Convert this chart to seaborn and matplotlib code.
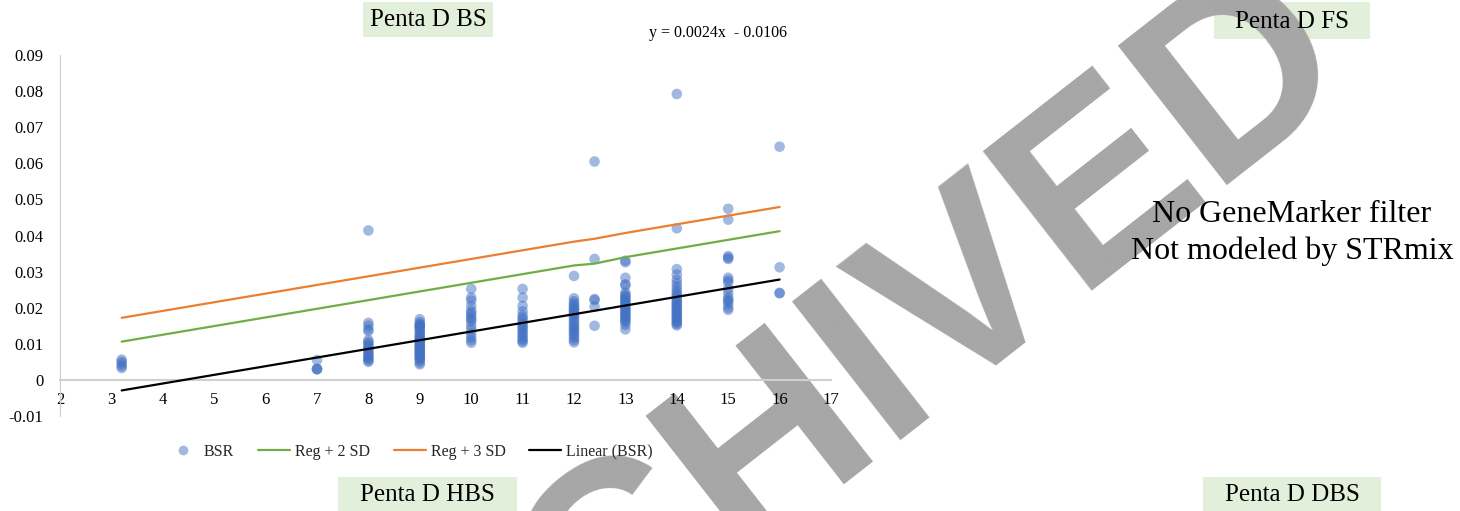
import numpy as np
import pandas as pd
import matplotlib
matplotlib.use("Agg")
import matplotlib.pyplot as plt
from matplotlib.patches import Rectangle
from matplotlib.lines import Line2D
import seaborn as sns

# ---- data: back-stutter ratio (BSR) per allele ----
bsr_3_2 = [0.0056, 0.0050, 0.0045, 0.0038, 0.0033]
bsr_7 = [0.0055, 0.0031, 0.0030, 0.0029]
bsr_8 = [0.0414, 0.0158, 0.0150, 0.0140, 0.0135, 0.0110, 0.0105, 0.0100, 0.0095,
         0.0090, 0.0085, 0.0080, 0.0075, 0.0070, 0.0066, 0.0062, 0.0058, 0.0054, 0.0050]
bsr_9 = [0.0168, 0.0160, 0.0155, 0.0152, 0.0150, 0.0147, 0.0144, 0.0140, 0.0135,
         0.0130, 0.0125, 0.0120, 0.0117, 0.0113, 0.0110, 0.0107, 0.0104, 0.0100,
         0.0097, 0.0094, 0.0091, 0.0088, 0.0085, 0.0082, 0.0079, 0.0076, 0.0073,
         0.0070, 0.0067, 0.0064, 0.0061, 0.0058, 0.0054, 0.0048, 0.0043]
bsr_10 = [0.0252, 0.0228, 0.0220, 0.0205, 0.0192, 0.0186, 0.0180, 0.0172, 0.0168,
          0.0162, 0.0150, 0.0140, 0.0128, 0.0118, 0.0110, 0.0103]
bsr_11 = [0.0252, 0.0228, 0.0205, 0.0190, 0.0178, 0.0172, 0.0165, 0.0158, 0.0152,
          0.0147, 0.0142, 0.0136, 0.0130, 0.0124, 0.0118, 0.0112, 0.0107, 0.0103]
bsr_12 = [0.0288, 0.0226, 0.0218, 0.0212, 0.0207, 0.0202, 0.0198, 0.0194, 0.0190,
          0.0186, 0.0182, 0.0178, 0.0172, 0.0166, 0.0160, 0.0154, 0.0148, 0.0143,
          0.0138, 0.0133, 0.0128, 0.0122, 0.0116, 0.0110, 0.0104]
bsr_12_4 = [0.0605, 0.0335, 0.0224, 0.0221, 0.0203, 0.0150]
bsr_13 = [0.0330, 0.0326, 0.0283, 0.0265, 0.0262, 0.0242, 0.0236, 0.0232, 0.0228,
          0.0224, 0.0220, 0.0216, 0.0212, 0.0208, 0.0204, 0.0200, 0.0196, 0.0192,
          0.0188, 0.0184, 0.0180, 0.0176, 0.0172, 0.0168, 0.0164, 0.0160, 0.0152, 0.0140]
bsr_14 = [0.0792, 0.0420, 0.0307, 0.0292, 0.0278, 0.0268, 0.0258, 0.0250, 0.0242,
          0.0236, 0.0230, 0.0225, 0.0220, 0.0215, 0.0211, 0.0207, 0.0203, 0.0199,
          0.0195, 0.0191, 0.0187, 0.0183, 0.0179, 0.0175, 0.0171, 0.0167, 0.0163,
          0.0159, 0.0155, 0.0151]
bsr_15 = [0.0474, 0.0444, 0.0343, 0.0338, 0.0335, 0.0283, 0.0276, 0.0270, 0.0252,
          0.0240, 0.0228, 0.0222, 0.0218, 0.0210, 0.0200, 0.0194]
bsr_16 = [0.0646, 0.0312, 0.0241, 0.0240]

allele_groups = [(3.2, bsr_3_2), (7, bsr_7), (8, bsr_8), (9, bsr_9), (10, bsr_10),
                 (11, bsr_11), (12, bsr_12), (12.4, bsr_12_4), (13, bsr_13),
                 (14, bsr_14), (15, bsr_15), (16, bsr_16)]

# regression + SD bands evaluated at each allele
band_alleles = [3.2, 7, 8, 9, 10, 11, 12, 12.4, 13, 14, 15, 16]
reg_2sd = [0.0106, 0.0197, 0.0221, 0.0245, 0.0269, 0.0293, 0.0317, 0.0322,
           0.0340, 0.0364, 0.0388, 0.0412]
reg_3sd = [0.0172, 0.0263, 0.0287, 0.0311, 0.0335, 0.0359, 0.0383, 0.0391,
           0.0407, 0.0431, 0.0455, 0.0479]

# linear trend of BSR
trend_slope = 0.0024
trend_intercept = -0.0106
trend_range = [3.2, 16]

x_ticks = list(range(2, 18))
y_ticks = [-0.01, 0.0, 0.01, 0.02, 0.03, 0.04, 0.05, 0.06, 0.07, 0.08, 0.09]
y_tick_labels = ["-0.01", "0", "0.01", "0.02", "0.03", "0.04", "0.05", "0.06",
                 "0.07", "0.08", "0.09"]

# ---- style ----
sns.set_theme(style="white")
plt.rcParams["font.family"] = ["Liberation Serif", "DejaVu Serif"]

W, H = 1460, 511
fig = plt.figure(figsize=(W / 100, H / 100), dpi=100)
fig.patch.set_facecolor("white")


def fx(px):
    return px / W


def fy(py):
    return 1 - py / H


BLUE = "#4472C4"
GREEN = "#70AD47"
ORANGE = "#ED7D31"
BOX = "#E2EFDA"
AXIS_GREY = "#D0D0D0"

# panel header boxes
headers = [("Penta D BS", 363, 2, 493, 37), ("Penta D FS", 1214, 2, 1370, 39),
           ("Penta D HBS", 338, 477, 517, 511), ("Penta D DBS", 1203, 477, 1381, 511)]
for label, x0, y0, x1, y1 in headers:
    fig.add_artist(Rectangle((fx(x0), fy(y1)), fx(x1) - fx(x0), fy(y0) - fy(y1),
                             transform=fig.transFigure, facecolor=BOX,
                             edgecolor="none", zorder=1))
    fig.text(fx((x0 + x1) / 2), fy((y0 + y1) / 2 + 1), label, ha="center",
             va="center", fontsize=18, color="black", zorder=6)

# archive watermark
fig.text(fx(830), fy(490), "ARCHIVED", rotation=38, rotation_mode="anchor",
         ha="center", va="baseline", fontsize=185, fontweight="bold",
         family="Liberation Sans", color="#A6A6A6", zorder=2)

# ---- scatter panel ----
ax = fig.add_axes([fx(60), fy(416), fx(831) - fx(60), fy(55) - fy(416)])
ax.set_facecolor("none")
ax.set_zorder(5)

df = pd.DataFrame({
    "allele": np.concatenate([[a] * len(v) for a, v in allele_groups]),
    "bsr": np.concatenate([v for a, v in allele_groups]),
})
sns.scatterplot(data=df, x="allele", y="bsr", ax=ax, color=BLUE, alpha=0.5,
                s=58, edgecolor="none", linewidth=0, legend=False, zorder=3)

bands = pd.DataFrame({"allele": band_alleles, "reg2": reg_2sd, "reg3": reg_3sd})
sns.lineplot(data=bands, x="allele", y="reg2", ax=ax, color=GREEN, lw=1.6,
             legend=False, zorder=4)
sns.lineplot(data=bands, x="allele", y="reg3", ax=ax, color=ORANGE, lw=1.6,
             legend=False, zorder=4)

trend_x = np.array(trend_range)
trend = pd.DataFrame({"allele": trend_x, "fit": trend_slope * trend_x + trend_intercept})
sns.lineplot(data=trend, x="allele", y="fit", ax=ax, color="black", lw=1.6,
             legend=False, zorder=4)

ax.set_xlim(2, 17)
ax.set_ylim(-0.01, 0.09)
ax.set_xticks(x_ticks)
ax.set_xticklabels([str(t) for t in x_ticks])
ax.set_yticks(y_ticks)
ax.set_yticklabels(y_tick_labels)
ax.set_xlabel("")
ax.set_ylabel("")
ax.grid(False)

for side in ("top", "right"):
    ax.spines[side].set_visible(False)
ax.spines["bottom"].set_position(("data", 0))
ax.spines["bottom"].set_color(AXIS_GREY)
ax.spines["bottom"].set_linewidth(1.5)
ax.spines["left"].set_color(AXIS_GREY)
ax.spines["left"].set_linewidth(0.9)
ax.tick_params(axis="both", length=0, labelsize=12, colors="black")
ax.tick_params(axis="y", pad=12)
ax.tick_params(axis="x", pad=9)

# equation of the linear trend
fig.text(fx(718), fy(33), "y = 0.0024x  - 0.0106", ha="center", va="center",
         fontsize=11.5, color="black", zorder=6)

# legend
handles = [
    Line2D([], [], ls="none", marker="o", ms=7, color=BLUE, alpha=0.5, mec="none"),
    Line2D([], [], color=GREEN, lw=1.6),
    Line2D([], [], color=ORANGE, lw=1.6),
    Line2D([], [], color="black", lw=1.6),
]
labels = ["BSR", "Reg + 2 SD", "Reg + 3 SD", "Linear (BSR)"]
fig.legend(handles, labels, loc="center", bbox_to_anchor=(fx(410), fy(452)),
           ncol=4, frameon=False, fontsize=11.5, handlelength=2.0,
           handletextpad=0.3, columnspacing=1.5, borderpad=0)

# note for the unfiltered panel
fig.text(fx(1292), fy(233), "No GeneMarker filter\nNot modeled by STRmix",
         ha="center", va="center", fontsize=23, linespacing=1.3,
         color="black", zorder=6)

fig.savefig("out.png", dpi=100, facecolor="white")
